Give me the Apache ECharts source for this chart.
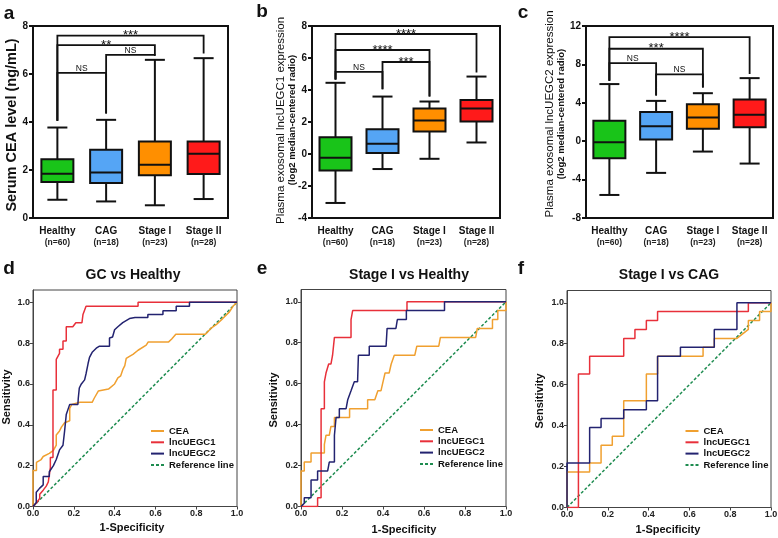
<!DOCTYPE html>
<html>
<head>
<meta charset="utf-8">
<title>CEA, lncUEGC1 and lncUEGC2</title>
<script src="https://cdn.jsdelivr.net/npm/echarts@6/dist/echarts.min.js"></script>
<style>
  html, body { margin: 0; padding: 0; background: #fff; }
  #chart { width: 778px; height: 538px; }
</style>
</head>
<body>
<div id="chart"></div>
<script>
const FONT = '"Liberation Sans", Arial, sans-serif'

const groups = ['Healthy', 'CAG', 'Stage I', 'Stage II']
const groupN = ['(n=60)', '(n=18)', '(n=23)', '(n=28)']
const boxColors = ['#19c419', '#55a5f5', '#ff8f00', '#ff1a1a']

// [min, Q1, median, Q3, max] per group
const ceaBox = [
  [0.76, 1.50, 1.84, 2.45, 3.77],
  [0.69, 1.46, 1.90, 2.84, 4.09],
  [0.53, 1.78, 2.22, 3.19, 6.59],
  [0.79, 1.83, 2.68, 3.19, 6.66]
]
const uegc1Box = [
  [-3.06, -1.03, -0.24, 1.05, 4.45],
  [-0.94, 0.06, 0.64, 1.55, 3.59],
  [-0.30, 1.41, 2.09, 2.84, 3.28],
  [0.72, 2.03, 2.84, 3.38, 4.84]
]
const uegc2Box = [
  [-5.6, -1.77, -0.1, 2.12, 5.95],
  [-3.3, 0.17, 1.57, 3.03, 4.2],
  [-1.08, 1.29, 2.47, 3.86, 5.0],
  [-2.33, 1.46, 2.75, 4.35, 6.57]
]

// [from group, to group, bar level, left end, right end]
const ceaSig = [[0, 3, 7.6, 4.05, 6.85], [0, 2, 7.2, 4.05, 6.8], [1, 2, 6.8, 4.35, 6.75], [0, 1, 6.05, 4.05, 4.35]]
const ceaSigText = ['***', '**', 'NS', 'NS']
const uegc1Sig = [[0, 3, 7.5, 4.65, 5.1], [0, 2, 6.5, 4.65, 3.6], [1, 2, 5.75, 4.05, 3.6], [0, 1, 5.13, 4.65, 4.05]]
const uegc1SigText = ['****', '****', '***', 'NS']
const uegc2Sig = [[0, 3, 10.85, 6.3, 7.0], [0, 2, 9.63, 6.3, 5.6], [0, 1, 8.14, 6.3, 4.75], [1, 2, 6.96, 4.75, 5.6]]
const uegc2SigText = ['****', '***', 'NS', 'NS']

const rocNames = ['CEA', 'lncUEGC1', 'lncUEGC2', 'Reference line']
const rocColors = ['#f0a030', '#e8303a', '#232370', '#1e8c50']
const refLine = [[0, 0], [1, 1]]

// GC vs Healthy, [1-specificity, sensitivity]
const gcCea = [[0, 0], [0, 0.176], [0.017, 0.176], [0.017, 0.216], [0.04, 0.23], [0.05, 0.245], [0.08, 0.26], [0.1, 0.275],
  [0.114, 0.3], [0.114, 0.35], [0.13, 0.37], [0.14, 0.39], [0.155, 0.41], [0.18, 0.42], [0.18, 0.48], [0.19, 0.5],
  [0.23, 0.51], [0.29, 0.51], [0.3, 0.53], [0.32, 0.565], [0.37, 0.575], [0.4, 0.6], [0.416, 0.63], [0.43, 0.64],
  [0.44, 0.67], [0.45, 0.69], [0.457, 0.725], [0.473, 0.735], [0.49, 0.745], [0.515, 0.765], [0.555, 0.79],
  [0.565, 0.806], [0.665, 0.806], [0.68, 0.82], [0.7, 0.843], [0.845, 0.843], [0.873, 0.873], [0.898, 0.89],
  [0.93, 0.92], [0.963, 0.953], [0.98, 0.98], [1, 1]]
const gcUegc1 = [[0, 0], [0.016, 0.016], [0.033, 0.04], [0.033, 0.06], [0.05, 0.08], [0.065, 0.1], [0.075, 0.12],
  [0.085, 0.19], [0.085, 0.24], [0.098, 0.24], [0.098, 0.57], [0.114, 0.57], [0.114, 0.72], [0.13, 0.75], [0.13, 0.77],
  [0.147, 0.77], [0.147, 0.81], [0.163, 0.81], [0.163, 0.88], [0.195, 0.88], [0.21, 0.9], [0.24, 0.9], [0.245, 0.94],
  [0.26, 0.98], [0.515, 0.98], [0.515, 1], [1, 1]]
const gcUegc2 = [[0, 0], [0.016, 0.02], [0.016, 0.07], [0.033, 0.09], [0.05, 0.106], [0.05, 0.147], [0.08, 0.147],
  [0.08, 0.17], [0.1, 0.2], [0.114, 0.23], [0.13, 0.277], [0.147, 0.3], [0.155, 0.37], [0.163, 0.45], [0.18, 0.5],
  [0.22, 0.5], [0.222, 0.53], [0.227, 0.58], [0.237, 0.6], [0.253, 0.62], [0.26, 0.65], [0.27, 0.7], [0.277, 0.73],
  [0.29, 0.755], [0.31, 0.775], [0.326, 0.785], [0.375, 0.785], [0.375, 0.825], [0.39, 0.83], [0.4, 0.865],
  [0.416, 0.88], [0.44, 0.9], [0.473, 0.92], [0.5, 0.925], [0.563, 0.925], [0.563, 0.94], [0.637, 0.94],
  [0.637, 0.958], [0.702, 0.958], [0.702, 0.98], [0.767, 0.98], [0.767, 1], [1, 1]]

// Stage I vs Healthy
const s1hCea = [[0, 0], [0, 0.174], [0.016, 0.174], [0.016, 0.217], [0.049, 0.217], [0.049, 0.261], [0.114, 0.261],
  [0.114, 0.304], [0.122, 0.348], [0.138, 0.348], [0.146, 0.391], [0.163, 0.391], [0.163, 0.435], [0.237, 0.435],
  [0.237, 0.478], [0.325, 0.478], [0.325, 0.522], [0.36, 0.522], [0.375, 0.565], [0.39, 0.565], [0.4, 0.609],
  [0.41, 0.652], [0.43, 0.652], [0.44, 0.696], [0.455, 0.739], [0.555, 0.739], [0.565, 0.783], [0.672, 0.783],
  [0.68, 0.826], [0.852, 0.826], [0.86, 0.87], [0.934, 0.87], [0.934, 0.913], [0.96, 0.913], [0.96, 0.957],
  [1, 0.957], [1, 1]]
const s1hUegc1 = [[0, 0], [0.081, 0], [0.081, 0.043], [0.098, 0.043], [0.098, 0.478], [0.114, 0.478], [0.114, 0.609],
  [0.122, 0.652], [0.13, 0.652], [0.135, 0.696], [0.146, 0.696], [0.154, 0.739], [0.163, 0.739], [0.163, 0.826],
  [0.244, 0.826], [0.244, 0.913], [0.252, 0.957], [0.517, 0.957], [0.517, 1], [1, 1]]
const s1hUegc2 = [[0, 0], [0.016, 0.016], [0.016, 0.043], [0.049, 0.043], [0.049, 0.13], [0.081, 0.13], [0.081, 0.174],
  [0.13, 0.174], [0.138, 0.217], [0.163, 0.217], [0.163, 0.348], [0.171, 0.435], [0.187, 0.435], [0.187, 0.478],
  [0.22, 0.478], [0.228, 0.522], [0.244, 0.565], [0.26, 0.609], [0.276, 0.609], [0.28, 0.739], [0.333, 0.739],
  [0.333, 0.783], [0.415, 0.783], [0.42, 0.87], [0.463, 0.87], [0.47, 0.913], [0.514, 0.913], [0.514, 0.957],
  [0.7, 0.957], [0.7, 1], [1, 1]]

// Stage I vs CAG
const s1cCea = [[0, 0], [0, 0.174], [0.111, 0.174], [0.111, 0.217], [0.167, 0.217], [0.167, 0.304], [0.222, 0.304],
  [0.222, 0.348], [0.278, 0.348], [0.278, 0.522], [0.389, 0.522], [0.389, 0.652], [0.444, 0.652], [0.444, 0.739],
  [0.667, 0.739], [0.667, 0.783], [0.722, 0.783], [0.722, 0.826], [0.833, 0.826], [0.889, 0.87], [0.889, 0.913],
  [0.944, 0.913], [0.944, 0.957], [1, 0.957], [1, 1]]
const s1cUegc1 = [[0, 0], [0.056, 0], [0.056, 0.652], [0.111, 0.652], [0.111, 0.739], [0.278, 0.739], [0.278, 0.826],
  [0.333, 0.826], [0.333, 0.87], [0.389, 0.87], [0.389, 0.913], [0.444, 0.913], [0.444, 0.957], [0.889, 0.957],
  [0.889, 1], [1, 1]]
const s1cUegc2 = [[0, 0], [0, 0.217], [0.111, 0.217], [0.111, 0.391], [0.167, 0.391], [0.167, 0.435], [0.278, 0.435],
  [0.278, 0.478], [0.389, 0.478], [0.389, 0.522], [0.444, 0.522], [0.444, 0.739], [0.556, 0.739], [0.556, 0.783],
  [0.722, 0.783], [0.722, 0.87], [0.833, 0.87], [0.833, 1], [1, 1]]

const rocTicks = [0, 0.2, 0.4, 0.6, 0.8, 1]

function renderBox(params, api) {
  const i = api.value(0)
  const lo = api.coord([i, api.value(1)])
  const q1 = api.coord([i, api.value(2)])
  const md = api.coord([i, api.value(3)])
  const q3 = api.coord([i, api.value(4)])
  const hi = api.coord([i, api.value(5)])
  const x = lo[0]
  const bw = 32
  const cw = 20
  const ls = { stroke: '#111', lineWidth: 2 }
  return {
    type: 'group',
    children: [
      { type: 'line', shape: { x1: x, y1: hi[1], x2: x, y2: q3[1] }, style: ls },
      { type: 'line', shape: { x1: x, y1: q1[1], x2: x, y2: lo[1] }, style: ls },
      { type: 'line', shape: { x1: x - cw / 2, y1: hi[1], x2: x + cw / 2, y2: hi[1] }, style: ls },
      { type: 'line', shape: { x1: x - cw / 2, y1: lo[1], x2: x + cw / 2, y2: lo[1] }, style: ls },
      {
        type: 'rect',
        shape: { x: x - bw / 2, y: q3[1], width: bw, height: q1[1] - q3[1] },
        style: { fill: boxColors[i], stroke: '#111', lineWidth: 2 }
      },
      { type: 'line', shape: { x1: x - bw / 2, y1: md[1], x2: x + bw / 2, y2: md[1] }, style: ls }
    ]
  }
}

function bracketRenderer(texts) {
  return function (params, api) {
    const a = api.value(0)
    const b = api.value(1)
    const lv = api.value(2)
    const p1 = api.coord([a, api.value(3)])
    const p2 = api.coord([a, lv])
    const p3 = api.coord([b, lv])
    const p4 = api.coord([b, api.value(4)])
    const t = texts[params.dataIndex]
    const star = t !== 'NS'
    return {
      type: 'group',
      children: [
        { type: 'polyline', shape: { points: [p1, p2, p3, p4] }, style: { stroke: '#111', lineWidth: 1.8, fill: 'none' } },
        {
          type: 'text',
          x: (p2[0] + p3[0]) / 2,
          y: p2[1] + (star ? 0 : -4.5),
          style: {
            text: t, fill: '#111',
            font: (star ? '13px ' : '8.5px ') + FONT,
            align: 'center', verticalAlign: 'middle'
          }
        }
      ]
    }
  }
}

const boxPanels = [
  { box: ceaBox, sig: ceaSig, text: ceaSigText, min: 0, max: 8, interval: 2 },
  { box: uegc1Box, sig: uegc1Sig, text: uegc1SigText, min: -4, max: 8, interval: 2 },
  { box: uegc2Box, sig: uegc2Sig, text: uegc2SigText, min: -8, max: 12, interval: 4 }
]
const rocPanels = [
  [gcCea, gcUegc1, gcUegc2, refLine],
  [s1hCea, s1hUegc1, s1hUegc2, refLine],
  [s1cCea, s1cUegc1, s1cUegc2, refLine]
]

const grid = [
  { left: 33, top: 26, width: 195, height: 192 },
  { left: 312, top: 26, width: 188, height: 192 },
  { left: 586, top: 26, width: 187, height: 192 },
  { left: 33, top: 290, width: 204, height: 216.5 },
  { left: 301, top: 289.5, width: 205, height: 217 },
  { left: 567, top: 290.5, width: 204, height: 217 }
].map((g, i) => Object.assign(g, {
  show: true,
  containLabel: false,
  outerBoundsMode: 'none',
  borderColor: i < 3 ? '#111' : '#444',
  borderWidth: i < 3 ? 2 : 1
}))

const xAxis = []
const yAxis = []
const series = []

boxPanels.forEach((p, i) => {
  xAxis.push({
    type: 'category',
    gridIndex: i,
    data: groups,
    axisLine: { onZero: false, lineStyle: { color: '#111', width: 2 } },
    axisTick: { alignWithLabel: true, length: 4, lineStyle: { color: '#111', width: 2 } },
    axisLabel: {
      interval: 0,
      margin: 8,
      color: '#111',
      formatter: (v, idx) => '{g|' + v + '}\n{n|' + groupN[idx] + '}',
      rich: {
        g: { fontSize: 10, fontWeight: 'bold', lineHeight: 11, fontFamily: FONT, color: '#111' },
        n: { fontSize: 8.5, fontWeight: 'bold', lineHeight: 11, fontFamily: FONT, color: '#222' }
      }
    }
  })
  yAxis.push({
    type: 'value',
    gridIndex: i,
    min: p.min,
    max: p.max,
    interval: p.interval,
    splitLine: { show: false },
    axisLine: { show: true, onZero: false, lineStyle: { color: '#111', width: 2 } },
    axisTick: { show: true, length: 4, lineStyle: { color: '#111', width: 2 } },
    axisLabel: { margin: 5, fontSize: 10, fontWeight: 'bold', color: '#111', fontFamily: FONT }
  })
  series.push({
    type: 'custom',
    xAxisIndex: i,
    yAxisIndex: i,
    renderItem: renderBox,
    encode: { x: 0, y: [1, 2, 3, 4, 5] },
    data: p.box.map((b, k) => [k].concat(b))
  })
  series.push({
    type: 'custom',
    xAxisIndex: i,
    yAxisIndex: i,
    renderItem: bracketRenderer(p.text),
    encode: { x: [0, 1], y: [2, 3, 4] },
    data: p.sig
  })
})

rocPanels.forEach((lines, k) => {
  const i = k + 3
  xAxis.push({
    type: 'value',
    gridIndex: i,
    min: 0,
    max: 1,
    interval: 0.2,
    splitLine: { show: false },
    axisLine: { onZero: false, lineStyle: { color: '#444', width: 1 } },
    axisTick: { length: 3, lineStyle: { color: '#444' } },
    axisLabel: { margin: 3, fontSize: 9, fontWeight: 'bold', color: '#222', fontFamily: FONT, formatter: v => v.toFixed(1) }
  })
  yAxis.push({
    type: 'value',
    gridIndex: i,
    min: 0,
    max: 1.06,
    splitLine: { show: false },
    axisLine: { show: true, onZero: false, lineStyle: { color: '#444', width: 1 } },
    axisTick: { show: true, length: 3, customValues: rocTicks, lineStyle: { color: '#444' } },
    axisLabel: {
      margin: 3, fontSize: 9, fontWeight: 'bold', color: '#222', fontFamily: FONT,
      customValues: rocTicks, formatter: v => v.toFixed(1)
    }
  })
  lines.forEach((d, j) => {
    series.push({
      type: 'line',
      name: rocNames[j],
      xAxisIndex: i,
      yAxisIndex: i,
      data: d,
      symbol: 'none',
      z: j === 3 ? 2 : 3,
      itemStyle: { color: rocColors[j] },
      lineStyle: { color: rocColors[j], width: 1.5, type: j === 3 ? [3, 2] : 'solid' }
    })
  })
})

const legendPos = [[150, 426], [419, 425], [684.5, 426]]
const legend = legendPos.map(p => ({
  data: rocNames,
  orient: 'vertical',
  left: p[0],
  top: p[1],
  padding: 0,
  itemWidth: 13,
  itemHeight: 8,
  itemGap: 1.3,
  selectedMode: false,
  itemStyle: { opacity: 0 },
  lineStyle: { width: 2 },
  textStyle: { fontSize: 9.5, fontWeight: 'bold', color: '#111', lineHeight: 9.3, fontFamily: FONT }
}))

function label(text, x, y, font, rot) {
  return {
    type: 'text', x: x, y: y, rotation: rot || 0,
    style: { text: text, font: font + ' ' + FONT, fill: '#111', align: 'center', verticalAlign: 'middle' }
  }
}

const graphic = [
  label('a', 9, 13.5, 'bold 19px'),
  label('b', 262, 11.5, 'bold 19px'),
  label('c', 523, 12.5, 'bold 19px'),
  label('d', 9, 268.5, 'bold 19px'),
  label('e', 262, 268.5, 'bold 19px'),
  label('f', 521, 268.5, 'bold 19px'),
  label('Serum CEA level (ng/mL)', 12, 125, 'bold 14.5px', Math.PI / 2),
  label('Plasma exosomal lncUEGC1 expression', 280.5, 120.5, '11.5px', Math.PI / 2),
  label('(log2 median-centered radio)', 292.5, 120, 'bold 9.5px', Math.PI / 2),
  label('Plasma exosomal lncUEGC2 expression', 549.5, 114, '11.5px', Math.PI / 2),
  label('(log2 median-centered radio)', 561, 114, 'bold 9.5px', Math.PI / 2),
  label('GC vs Healthy', 133, 275, 'bold 14px'),
  label('Stage I vs Healthy', 409, 275, 'bold 14px'),
  label('Stage I vs CAG', 669, 275, 'bold 14px'),
  label('Sensitivity', 6.5, 397, 'bold 11px', Math.PI / 2),
  label('Sensitivity', 274, 400, 'bold 11px', Math.PI / 2),
  label('Sensitivity', 539.5, 401, 'bold 11px', Math.PI / 2),
  label('1-Specificity', 132, 528, 'bold 11px'),
  label('1-Specificity', 404, 530, 'bold 11px'),
  label('1-Specificity', 668, 530, 'bold 11px')
]

const myChart = echarts.init(document.getElementById('chart'))
const option = {
  animation: false,
  backgroundColor: '#fff',
  textStyle: { fontFamily: FONT },
  grid,
  xAxis,
  yAxis,
  legend,
  graphic,
  series
}
myChart.setOption(option)

window.addEventListener('resize', () => {
  myChart.resize()
})
</script>
</body>
</html>
